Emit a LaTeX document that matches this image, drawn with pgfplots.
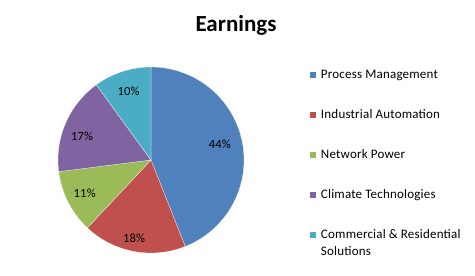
\documentclass[border=0pt]{standalone}
\usepackage{fontspec}
\setmainfont{Carlito}
\usepackage{pgfplots}
\pgfplotsset{compat=1.18}
\definecolor{cA}{HTML}{4F81BD}
\definecolor{cB}{HTML}{C0504D}
\definecolor{cC}{HTML}{9BBB59}
\definecolor{cD}{HTML}{8064A2}
\definecolor{cE}{HTML}{4BACC6}
\begin{document}
\begin{tikzpicture}[x=1pt,y=1pt]
\path[use as bounding box] (0,0) rectangle (475,276);
\node[font=\bfseries\fontsize{23}{27}\selectfont, anchor=base, inner sep=0pt] at (236,244) {Earnings};
\begin{axis}[
  at={(151pt,116pt)}, anchor=center,
  width=186pt, height=186pt, scale only axis,
  xmin=-1, xmax=1, ymin=-1, ymax=1,
  hide axis, clip=false,
  legend image code/.code={\fill[#1] (0pt,-3.5pt) rectangle (7pt,3.5pt);},
  legend style={draw=none, fill=none, at={(axis cs:1.70,0.98)}, anchor=north west,
    font=\fontsize{13}{15}\selectfont\addfontfeature{LetterSpace=1.5}, row sep=27.5pt, inner sep=0pt,
    nodes={inner sep=1pt},
    /tikz/every odd column/.append style={column sep=3.5pt}},
  legend cell align=left,
]
\addplot[fill=cA, draw=white, line width=0.2pt, domain=0:44, samples=90] ({sin(3.6*x)},{cos(3.6*x)}) -- (axis cs:0,0) -- cycle;
\addlegendentry{Process Management}
\addplot[fill=cB, draw=white, line width=0.2pt, domain=44:62, samples=40] ({sin(3.6*x)},{cos(3.6*x)}) -- (axis cs:0,0) -- cycle;
\addlegendentry{Industrial Automation}
\addplot[fill=cC, draw=white, line width=0.2pt, domain=62:73, samples=30] ({sin(3.6*x)},{cos(3.6*x)}) -- (axis cs:0,0) -- cycle;
\addlegendentry{Network Power}
\addplot[fill=cD, draw=white, line width=0.2pt, domain=73:90, samples=40] ({sin(3.6*x)},{cos(3.6*x)}) -- (axis cs:0,0) -- cycle;
\addlegendentry{Climate Technologies}
\addplot[fill=cE, draw=white, line width=0.2pt, domain=90:100, samples=30] ({sin(3.6*x)},{cos(3.6*x)}) -- (axis cs:0,0) -- cycle;
\addlegendentry{\parbox[t]{170pt}{\fontsize{13}{17}\selectfont\addfontfeature{LetterSpace=1.5}Commercial \& Residential\\Solutions}}
\begin{scope}[every node/.style={font=\fontsize{12.5}{15}\selectfont\addfontfeature{LetterSpace=1.5}}]
\node at (axis cs:{0.76*sin(3.6*21.4)},{0.76*cos(3.6*21.4)}) {44\%};
\node at (axis cs:{0.86*sin(3.6*53.4)},{0.86*cos(3.6*53.4)}) {18\%};
\node at (axis cs:{0.8*sin(3.6*67.5)},{0.8*cos(3.6*67.5)}) {11\%};
\node at (axis cs:{0.785*sin(3.6*80.3)},{0.785*cos(3.6*80.3)}) {17\%};
\node at (axis cs:{0.78*sin(3.6*95)},{0.78*cos(3.6*95)}) {10\%};
\end{scope}
\end{axis}
\end{tikzpicture}
\end{document}
